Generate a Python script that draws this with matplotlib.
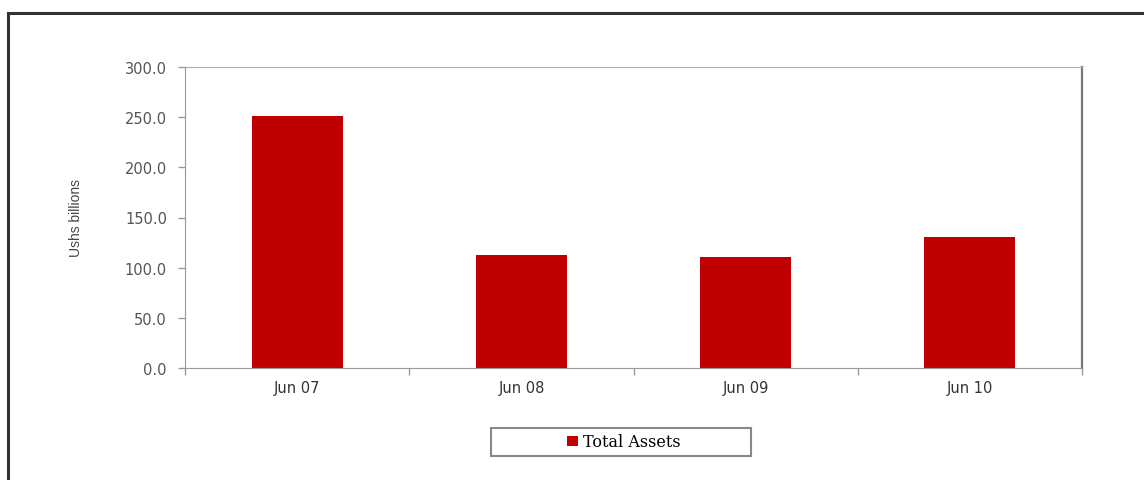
import matplotlib.pyplot as plt
from matplotlib.patches import Rectangle
import numpy as np

plt.rcParams["font.family"] = ["DejaVu Sans"]

# Datos del gráfico
periodos = ["Jun 07", "Jun 08", "Jun 09", "Jun 10"]
total_activos = [251.5, 112.6, 110.6, 130.6]
ticks_y = [0, 50, 100, 150, 200, 250, 300]

rojo = "#c00000"

fig = plt.figure(figsize=(11.44, 4.81), dpi=100)

# Marco exterior (cortado por la derecha y por abajo)
marco = Rectangle((7.5 / 1144, -0.05), 1.2, 1 - 13.5 / 481 + 0.05,
                  transform=fig.transFigure, fill=False,
                  edgecolor="#333333", linewidth=2.2)
fig.patches.append(marco)

ax = fig.add_axes([185 / 1144, 112 / 481, 897 / 1144, 301 / 481])

x = np.arange(len(periodos))
ax.bar(x, total_activos, width=0.405, color=rojo, label="Total Assets", zorder=2)

ax.set_xlim(-0.5, len(periodos) - 0.5)
ax.set_ylim(0, 300)

ax.set_yticks(ticks_y)
ax.set_yticklabels(["%.1f" % v for v in ticks_y], color="#555555", fontsize=10.5)
ax.set_xticks(x)
ax.set_xticklabels(periodos, color="#333333", fontsize=10.5)
ax.tick_params(axis="x", which="major", length=0, pad=9)
ax.tick_params(axis="y", length=5, color="#999999", width=1, pad=8)

# Marcas entre categorías en el eje x
ax.set_xticks(np.arange(-0.5, len(periodos), 1.0), minor=True)
ax.tick_params(axis="x", which="minor", length=5, color="#999999", width=1)

ax.spines["left"].set_color("#999999")
ax.spines["bottom"].set_color("#999999")
ax.spines["top"].set_color("#aaaaaa")
ax.spines["right"].set_color("#777777")
ax.spines["right"].set_linewidth(1.6)

ax.set_ylabel("Ushs billions", fontsize=10, color="#444444", labelpad=30,
              family="Liberation Sans")

# Leyenda con caja ancha
caja = Rectangle((491 / 1144, 1 - 457 / 481), 260 / 1144, 28 / 481,
                 transform=fig.transFigure, facecolor="white",
                 edgecolor="#888888", linewidth=1.5)
fig.patches.append(caja)
fig.legend(loc="center", bbox_to_anchor=(624 / 1144, 1 - 443 / 481),
           frameon=False, handlelength=0.7, handleheight=0.6,
           handletextpad=0.3, prop={"family": "DejaVu Serif", "size": 11.5})

plt.savefig("out.png")
